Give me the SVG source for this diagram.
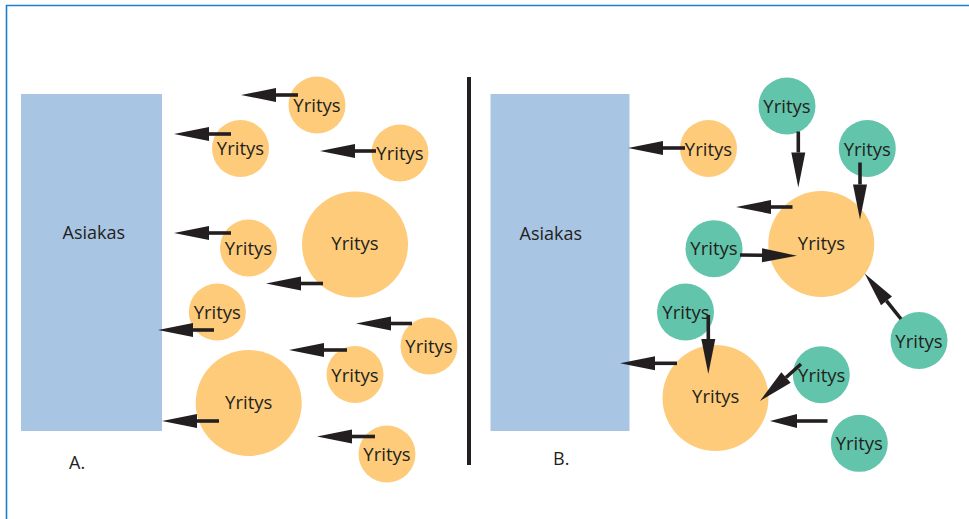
<svg xmlns="http://www.w3.org/2000/svg" width="969" height="519" viewBox="0 0 969 519">
<style>
.bg{fill:#ffffff}
.frame{stroke:#1a80c8;stroke-width:1.6;fill:none}
.cust{fill:#a8c5e3}
.org{fill:#fecb7a}
.grn{fill:#62c4ab}
.lbl{font-family:"Open Sans","Noto Sans","Liberation Sans",sans-serif;font-size:18.5px;fill:#231f20;text-anchor:middle}
.side{font-family:"Open Sans","Noto Sans","Liberation Sans",sans-serif;font-size:18px;fill:#231f20}
.arr{stroke:#231f20;stroke-width:3.6;fill:none;marker-end:url(#head)}
.arrs{stroke:#231f20;stroke-width:3.6;fill:none;marker-end:url(#heads)}
</style>
<defs>
<marker id="head" markerUnits="userSpaceOnUse" markerWidth="40" markerHeight="20" refX="0" refY="7" orient="auto" overflow="visible">
<path d="M0,0 L35,7 L0,14 z" fill="#231f20"/>
</marker>
<marker id="heads" markerUnits="userSpaceOnUse" markerWidth="34" markerHeight="20" refX="0" refY="7" orient="auto" overflow="visible">
<path d="M0,0 L27,7 L0,14 z" fill="#231f20"/>
</marker>
</defs>
<rect class="bg" x="0" y="0" width="969" height="519"/>
<path class="frame" d="M6.5,519 V5.5 H969"/>
<rect id="divider" x="467" y="77" width="4" height="388" fill="#231f20"/>

<g id="panelA">
<g id="asiakasA"><rect class="cust" x="21" y="94" width="141" height="337"/><text class="side" x="62.5" y="238.5">Asiakas</text></g>
<g id="a-y1"><circle class="org" cx="317" cy="105" r="28.5"/><text class="lbl" x="317" y="112">Yritys</text></g>
<g id="a-y2"><circle class="org" cx="240.5" cy="148.5" r="28.5"/><text class="lbl" x="240.5" y="155">Yritys</text></g>
<g id="a-y3"><circle class="org" cx="400" cy="153" r="28.5"/><text class="lbl" x="400" y="160">Yritys</text></g>
<g id="a-y4"><circle class="org" cx="355" cy="244.5" r="53"/><text class="lbl" x="355" y="250">Yritys</text></g>
<g id="a-y5"><circle class="org" cx="248.5" cy="248" r="28.5"/><text class="lbl" x="248.5" y="255">Yritys</text></g>
<g id="a-y6"><circle class="org" cx="217.3" cy="312" r="28.5"/><text class="lbl" x="217.3" y="319">Yritys</text></g>
<g id="a-y7"><circle class="org" cx="429" cy="346" r="28.5"/><text class="lbl" x="429" y="353">Yritys</text></g>
<g id="a-y8"><circle class="org" cx="355" cy="374.5" r="28.5"/><text class="lbl" x="355" y="381.5">Yritys</text></g>
<g id="a-y9"><circle class="org" cx="248.7" cy="403" r="53"/><text class="lbl" x="248.7" y="409">Yritys</text></g>
<g id="a-y10"><circle class="org" cx="387" cy="454" r="28.5"/><text class="lbl" x="387" y="461">Yritys</text></g>
<text id="labelA" class="side" x="69" y="469">A.</text>
</g>

<g id="panelB">
<g id="asiakasB"><rect class="cust" x="490.5" y="94" width="139" height="337"/><text class="side" x="519.5" y="239.5">Asiakas</text></g>
<g id="b-o1"><circle class="org" cx="708.5" cy="148.5" r="28.5"/><text class="lbl" x="708.5" y="155.5">Yritys</text></g>
<g id="b-o2"><circle class="org" cx="821.3" cy="244" r="53"/><text class="lbl" x="821.5" y="249.5">Yritys</text></g>
<g id="b-o3"><circle class="org" cx="715.5" cy="398" r="53"/><text class="lbl" x="715.7" y="403">Yritys</text></g>
<g id="b-g1"><circle class="grn" cx="787" cy="106" r="28.5"/><text class="lbl" x="787" y="113">Yritys</text></g>
<g id="b-g2"><circle class="grn" cx="867.3" cy="148.5" r="28.5"/><text class="lbl" x="867.3" y="155.5">Yritys</text></g>
<g id="b-g3"><circle class="grn" cx="714" cy="248.7" r="28.5"/><text class="lbl" x="714" y="255">Yritys</text></g>
<g id="b-g4"><circle class="grn" cx="919" cy="340.5" r="28.5"/><text class="lbl" x="919" y="347.5">Yritys</text></g>
<g id="b-g5"><circle class="grn" cx="685.5" cy="312" r="28.5"/><text class="lbl" x="686" y="319">Yritys</text></g>
<g id="b-g6"><circle class="grn" cx="821.3" cy="374.7" r="28.5"/><text class="lbl" x="821.7" y="381.7">Yritys</text></g>
<g id="b-g7"><circle class="grn" cx="859.3" cy="443.3" r="28.5"/><text class="lbl" x="859.3" y="450.3">Yritys</text></g>
<text id="labelB" class="side" x="553" y="465">B.</text>
</g>

<g id="connectors">
<line class="arr" x1="298" y1="95" x2="276" y2="95"/>
<line class="arr" x1="231" y1="134" x2="209" y2="134"/>
<line class="arr" x1="376" y1="151" x2="355" y2="151"/>
<line class="arr" x1="231" y1="233" x2="209" y2="233"/>
<line class="arr" x1="323" y1="283.5" x2="301" y2="283.5"/>
<line class="arr" x1="214" y1="330" x2="193" y2="330"/>
<line class="arr" x1="412" y1="323.5" x2="391" y2="323.5"/>
<line class="arr" x1="347" y1="350" x2="324" y2="350"/>
<line class="arr" x1="219" y1="421" x2="197" y2="421"/>
<line class="arr" x1="375" y1="436.5" x2="352" y2="436.5"/>

<line class="arr" x1="685" y1="148" x2="663" y2="148"/>
<line class="arr" x1="798.3" y1="131.5" x2="798.3" y2="152.5"/>
<line class="arr" x1="860" y1="162.5" x2="860" y2="184.5"/>
<line class="arr" x1="792.5" y1="207" x2="771" y2="207"/>
<line class="arr" x1="740" y1="255" x2="762" y2="255.3"/>
<line class="arr" x1="901" y1="319" x2="886.5" y2="300.8"/>
<line class="arr" x1="708.3" y1="315" x2="708.3" y2="339"/>
<line class="arr" x1="677" y1="363.3" x2="655" y2="363.3"/>
<line class="arr" x1="801" y1="364" x2="786" y2="377.5"/>
<line class="arrs" x1="827.5" y1="421" x2="797" y2="421"/>
</g>
</svg>
